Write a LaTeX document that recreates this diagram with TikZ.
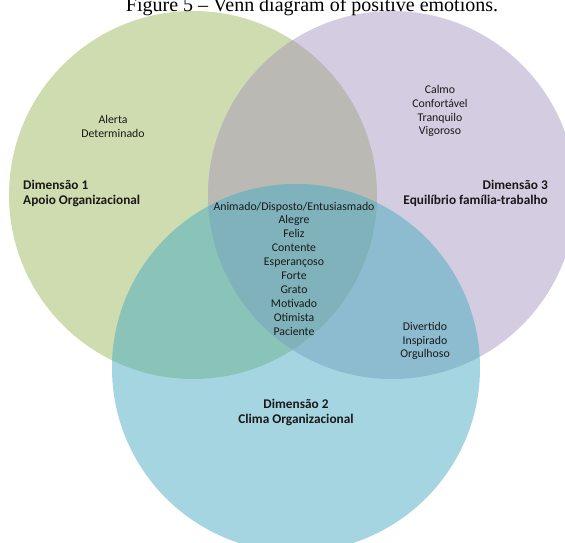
\documentclass[tikz,border=0pt]{standalone}
\usepackage{fontspec}
\setmainfont{Carlito}
\newfontfamily\titlefont{Liberation Serif}
\definecolor{cg}{RGB}{207,220,176}
\definecolor{cp}{RGB}{212,204,224}
\definecolor{cb}{RGB}{166,213,226}
\definecolor{cgp}{RGB}{186,185,180}
\definecolor{cgb}{RGB}{138,196,184}
\definecolor{cpb}{RGB}{141,187,207}
\definecolor{cgpb}{RGB}{127,178,187}
\definecolor{txt}{RGB}{25,25,25}
\begin{document}
\begin{tikzpicture}[x=1pt,y=-1pt,
  lbl/.style={font=\fontsize{11.8}{13.9}\selectfont, align=center, inner sep=0pt, text=txt},
  dim/.style={font=\bfseries\fontsize{13.3}{15}\selectfont, inner sep=0pt, text=txt}]
\useasboundingbox (0,0) rectangle (565,543);
\clip (0,0) rectangle (565,543);
\coordinate (G) at (193,195);
\coordinate (P) at (392,195);
\coordinate (B) at (296,368);
\fill[cg] (G) circle (184);
\fill[cp] (P) circle (184);
\fill[cb] (B) circle (184);
\begin{scope}
  \clip (G) circle (184);
  \fill[cgp] (P) circle (184);
  \fill[cgb] (B) circle (184);
\end{scope}
\begin{scope}
  \clip (P) circle (184);
  \fill[cpb] (B) circle (184);
  \clip (G) circle (184);
  \fill[cgpb] (B) circle (184);
\end{scope}
\node[anchor=base, inner sep=0pt, font=\titlefont\fontsize{20}{24}\selectfont] (title) at (312,12) {Figure 5 – Venn diagram of positive emotions.};
\node[lbl] (g1) at (113,126.5) {Alerta\\Determinado};
\node[lbl] (p1) at (440,111) {Calmo\\Confortável\\Tranquilo\\Vigoroso};
\node[lbl] (all) at (294,268.5) {Animado/Disposto/Entusiasmado\\Alegre\\Feliz\\Contente\\Esperançoso\\Forte\\Grato\\Motivado\\Otimista\\Paciente};
\node[lbl] (pb) at (425,341) {Divertido\\Inspirado\\Orgulhoso};
\node[dim, anchor=west, align=left] (d1) at (23,193.5) {Dimensão 1\\Apoio Organizacional};
\node[dim, anchor=east, align=right] (d3) at (548,193.5) {Dimensão 3\\Equilíbrio família-trabalho};
\node[dim, align=center] (d2) at (296,412) {Dimensão 2\\Clima Organizacional};
\end{tikzpicture}
\end{document}
